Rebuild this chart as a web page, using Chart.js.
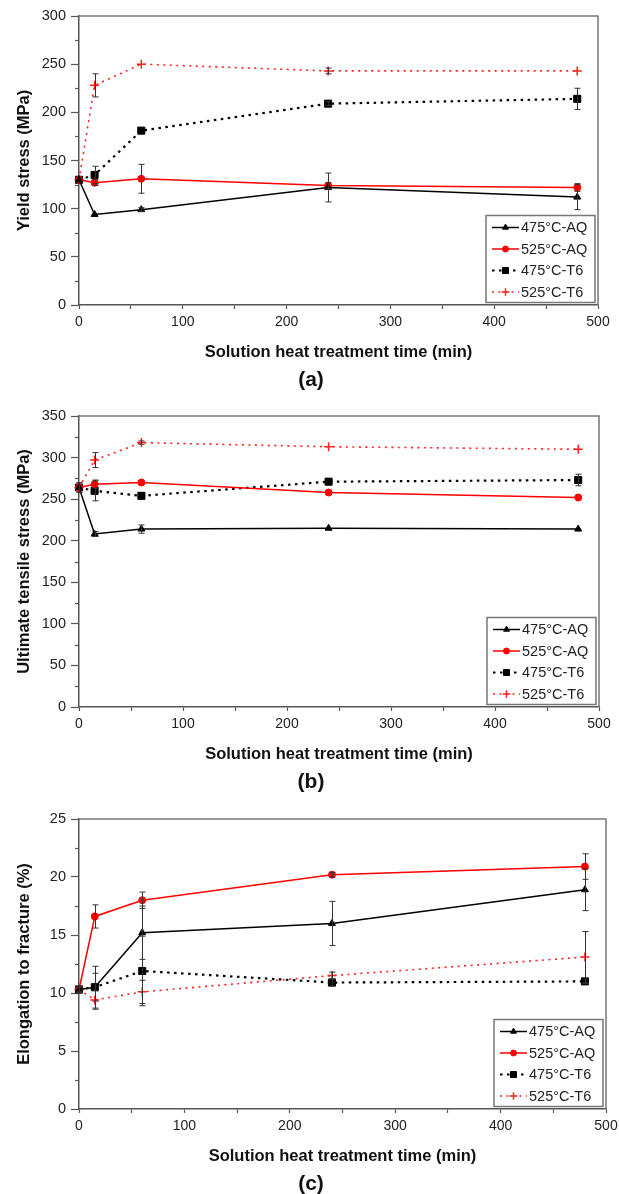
<!DOCTYPE html>
<html>
<head>
<meta charset="utf-8">
<script src="https://cdn.jsdelivr.net/npm/chart.js@4.4.0/dist/chart.umd.min.js"></script>
<style>
  html, body { margin: 0; padding: 0; background: #fff; }
  body { width: 619px; height: 1194px; position: relative; overflow: hidden; }
  .panel { position: absolute; left: 0; width: 619px; }
</style>
</head>
<body>
<div class="panel" style="top:0;height:400px"><canvas id="chartA" width="619" height="400"></canvas></div>
<div class="panel" style="top:400px;height:400px"><canvas id="chartB" width="619" height="400"></canvas></div>
<div class="panel" style="top:800px;height:394px"><canvas id="chartC" width="619" height="394"></canvas></div>
<script>
// Solution heat treatment times (min)
const times = [0, 15, 60, 240, 480];
const seriesNames = ['475°C-AQ', '525°C-AQ', '475°C-T6', '525°C-T6'];
const xTitle = 'Solution heat treatment time (min)';

// (a) Yield stress (MPa) and scatter
const yieldAQ475 = [130, 94, 99, 122, 112];
const yieldAQ475Err = [0, 0, 2, 15, 13];
const yieldAQ525 = [130, 127, 131, 124, 122];
const yieldAQ525Err = [0, 3, 15, 3, 4];
const yieldT6475 = [130, 135, 181, 209, 214];
const yieldT6475Err = [0, 9, 0, 2, 11];
const yieldT6525 = [130, 228, 250, 243, 243];
const yieldT6525Err = [0, 12, 0, 3, 0];

// (b) Ultimate tensile stress (MPa) and scatter
const utsAQ475 = [264, 208, 214, 215, 214];
const utsAQ475Err = [0, 3, 5, 0, 0];
const utsAQ525 = [264, 268, 270, 258, 252];
const utsAQ525Err = [0, 5, 0, 0, 0];
const utsT6475 = [264, 260, 254, 271, 273];
const utsT6475Err = [6, 12, 0, 0, 7];
const utsT6525 = [264, 297, 318, 313, 310];
const utsT6525Err = [0, 9, 2, 0, 0];

// (c) Elongation to fracture (%) and scatter
const elongAQ475 = [10.3, 10.5, 15.2, 16.0, 18.9];
const elongAQ475Err = [0.3, 1.8, 2.3, 1.9, 1.8];
const elongAQ525 = [10.3, 16.6, 18.0, 20.2, 20.9];
const elongAQ525Err = [0.3, 1.0, 0.7, 0.2, 1.1];
const elongT6475 = [10.3, 10.5, 11.9, 10.9, 11.0];
const elongT6475Err = [0.2, 1.2, 3.0, 0.3, 0.2];
const elongT6525 = [10.3, 9.4, 10.1, 11.5, 13.1];
const elongT6525Err = [0.2, 0.8, 1.0, 0.3, 2.2];

const FONT = '"Liberation Sans", Arial, Helvetica, sans-serif';
const AXIS_GREY = '#555';

const seriesStyles = [
  { borderColor: '#000', backgroundColor: '#000', borderWidth: 1.5, borderDash: [],
    pointStyle: 'triangle', pointRadius: 4, pointBorderWidth: 1 },
  { borderColor: '#f00', backgroundColor: '#f00', borderWidth: 1.5, borderDash: [],
    pointStyle: 'circle', pointRadius: 3.5, pointBorderWidth: 1 },
  { borderColor: '#000', backgroundColor: '#000', borderWidth: 2.2, borderDash: [2.5, 4.5],
    pointStyle: 'rect', pointRadius: 5, pointBorderWidth: 1 },
  { borderColor: '#ff2020', backgroundColor: '#ff2020', borderWidth: 1.6, borderDash: [2, 4.5],
    pointStyle: 'cross', pointRadius: 4.5, pointBorderWidth: 1.5 }
];

function toPoints(values) {
  return times.map((t, i) => ({ x: t, y: values[i] }));
}

// Plot frame (top and right edges of the plotting box) and short minor y ticks
const framePlugin = {
  id: 'frame',
  beforeDatasetsDraw(chart) {
    const { ctx, chartArea: a } = chart;
    ctx.save();
    ctx.strokeStyle = '#777';
    ctx.lineWidth = 1.5;
    ctx.beginPath();
    ctx.moveTo(a.left, a.top);
    ctx.lineTo(a.right, a.top);
    ctx.lineTo(a.right, a.bottom);
    ctx.stroke();
    const y = chart.scales.y;
    const minor = chart.options.plugins.frame.minorStep;
    const major = chart.options.plugins.frame.majorStep;
    ctx.strokeStyle = AXIS_GREY;
    ctx.lineWidth = 1.2;
    for (let v = minor; v < y.max; v += major) {
      const py = Math.round(y.getPixelForValue(v)) + 0.5;
      ctx.beginPath();
      ctx.moveTo(a.left - 4, py);
      ctx.lineTo(a.left, py);
      ctx.stroke();
    }
    ctx.restore();
  }
};

// Scatter bars drawn from each dataset's errors array
const errorBarPlugin = {
  id: 'errorBars',
  afterDatasetsDraw(chart) {
    const { ctx, scales: { x, y } } = chart;
    ctx.save();
    ctx.strokeStyle = '#333';
    ctx.lineWidth = 1;
    chart.data.datasets.forEach(ds => {
      (ds.errors || []).forEach((e, i) => {
        if (!e) return;
        const p = ds.data[i];
        const px = Math.round(x.getPixelForValue(p.x)) + 0.5;
        const top = y.getPixelForValue(p.y + e);
        const bot = y.getPixelForValue(p.y - e);
        ctx.beginPath();
        ctx.moveTo(px, top); ctx.lineTo(px, bot);
        ctx.moveTo(px - 3, top); ctx.lineTo(px + 3, top);
        ctx.moveTo(px - 3, bot); ctx.lineTo(px + 3, bot);
        ctx.stroke();
      });
    });
    ctx.restore();
  }
};

// Boxed legend in the lower right corner of the plot
const boxLegendPlugin = {
  id: 'boxLegend',
  afterDraw(chart) {
    const { ctx, chartArea: a } = chart;
    const w = 109, h = 87;
    const bx = a.right - 3 - w, by = a.bottom - 2.5 - h;
    ctx.save();
    ctx.fillStyle = '#fff';
    ctx.fillRect(bx, by, w, h);
    ctx.strokeStyle = '#777';
    ctx.lineWidth = 1.5;
    ctx.strokeRect(bx, by, w, h);
    chart.data.datasets.forEach((ds, i) => {
      const cy = by + 12 + i * 21.5;
      const x0 = bx + 6, x1 = bx + 33;
      ctx.strokeStyle = ds.borderColor;
      ctx.lineWidth = ds.borderWidth;
      ctx.setLineDash(ds.borderDash || []);
      ctx.beginPath();
      ctx.moveTo(x0, cy); ctx.lineTo(x1, cy);
      ctx.stroke();
      ctx.setLineDash([]);
      ctx.fillStyle = ds.backgroundColor;
      ctx.strokeStyle = ds.borderColor;
      ctx.lineWidth = ds.pointBorderWidth;
      Chart.helpers.drawPoint(ctx, {
        pointStyle: ds.pointStyle, radius: ds.pointRadius * 0.85, rotation: 0,
        borderWidth: ds.pointBorderWidth
      }, (x0 + x1) / 2, cy);
      ctx.fillStyle = '#222';
      ctx.font = '14.5px ' + FONT;
      ctx.textAlign = 'left';
      ctx.textBaseline = 'middle';
      ctx.fillText(ds.label, x1 + 2, cy + 0.5);
    });
    ctx.restore();
  }
};

// Panel letter under the x-axis title
const panelLabelPlugin = {
  id: 'panelLabel',
  afterDraw(chart) {
    const opts = chart.options.plugins.panelLabel;
    const { ctx, chartArea: a } = chart;
    ctx.save();
    ctx.fillStyle = '#111';
    ctx.font = 'bold 21px ' + FONT;
    ctx.textAlign = 'center';
    ctx.textBaseline = 'middle';
    ctx.fillText(opts.text, 311, a.bottom + 75);
    ctx.restore();
  }
};

function makePanel(id, cfg) {
  const series = [cfg.aq475, cfg.aq525, cfg.t6475, cfg.t6525];
  const errs = [cfg.aq475Err, cfg.aq525Err, cfg.t6475Err, cfg.t6525Err];
  const datasets = series.map((vals, i) => Object.assign({
    label: seriesNames[i],
    data: toPoints(vals),
    errors: errs[i],
    showLine: true,
    tension: 0,
    clip: false,
    pointBackgroundColor: seriesStyles[i].backgroundColor,
    pointBorderColor: seriesStyles[i].borderColor
  }, seriesStyles[i]));

  return new Chart(document.getElementById(id), {
    type: 'line',
    data: { datasets },
    options: {
      responsive: false,
      animation: false,
      devicePixelRatio: 1,
      layout: { padding: cfg.padding },
      plugins: {
        legend: { display: false },
        tooltip: { enabled: false },
        frame: { minorStep: cfg.yMajor / 2, majorStep: cfg.yMajor },
        panelLabel: { text: cfg.label }
      },
      scales: {
        x: {
          type: 'linear', min: 0, max: 500,
          ticks: {
            stepSize: 50, autoSkip: false, maxRotation: 0, padding: 5,
            color: '#222', font: { family: FONT, size: 14 },
            callback: v => (v % 100 === 0 ? String(v) : '')
          },
          grid: { drawOnChartArea: false, drawTicks: true, tickLength: 4, tickColor: AXIS_GREY, tickWidth: 1.2 },
          border: { display: true, color: AXIS_GREY, width: 1.5 },
          title: {
            display: true, text: xTitle, color: '#111',
            font: { family: FONT, size: 16.5, weight: 'bold' },
            padding: { top: 0, bottom: 3 }
          },
          afterFit: s => { s.height = 60; s.paddingRight = 0; s.paddingLeft = 0; }
        },
        y: {
          type: 'linear', min: 0, max: cfg.yMax,
          ticks: {
            stepSize: cfg.yMajor, autoSkip: false, padding: 5,
            color: '#222', font: { family: FONT, size: 14.5 },
            callback: v => String(v)
          },
          grid: { drawOnChartArea: false, drawTicks: true, tickLength: 8, tickColor: AXIS_GREY, tickWidth: 1.2 },
          border: { display: true, color: AXIS_GREY, width: 1.5 },
          title: {
            display: true, text: cfg.yTitle, color: '#111',
            font: { family: FONT, size: 16.5, weight: 'bold' },
            padding: { top: 15, bottom: 0 }
          },
          afterFit: s => { s.width = 79; }
        }
      }
    },
    plugins: [framePlugin, errorBarPlugin, boxLegendPlugin, panelLabelPlugin]
  });
}

makePanel('chartA', {
  yTitle: 'Yield stress (MPa)', yMax: 300, yMajor: 50, label: '(a)',
  padding: { top: 16, right: 21, bottom: 35, left: 0 },
  aq475: yieldAQ475, aq475Err: yieldAQ475Err,
  aq525: yieldAQ525, aq525Err: yieldAQ525Err,
  t6475: yieldT6475, t6475Err: yieldT6475Err,
  t6525: yieldT6525, t6525Err: yieldT6525Err
});

makePanel('chartB', {
  yTitle: 'Ultimate tensile stress (MPa)', yMax: 350, yMajor: 50, label: '(b)',
  padding: { top: 16, right: 20, bottom: 33, left: 0 },
  aq475: utsAQ475, aq475Err: utsAQ475Err,
  aq525: utsAQ525, aq525Err: utsAQ525Err,
  t6475: utsT6475, t6475Err: utsT6475Err,
  t6525: utsT6525, t6525Err: utsT6525Err
});

makePanel('chartC', {
  yTitle: 'Elongation to fracture (%)', yMax: 25, yMajor: 5, label: '(c)',
  padding: { top: 19, right: 13, bottom: 25, left: 0 },
  aq475: elongAQ475, aq475Err: elongAQ475Err,
  aq525: elongAQ525, aq525Err: elongAQ525Err,
  t6475: elongT6475, t6475Err: elongT6475Err,
  t6525: elongT6525, t6525Err: elongT6525Err
});
</script>
</body>
</html>
